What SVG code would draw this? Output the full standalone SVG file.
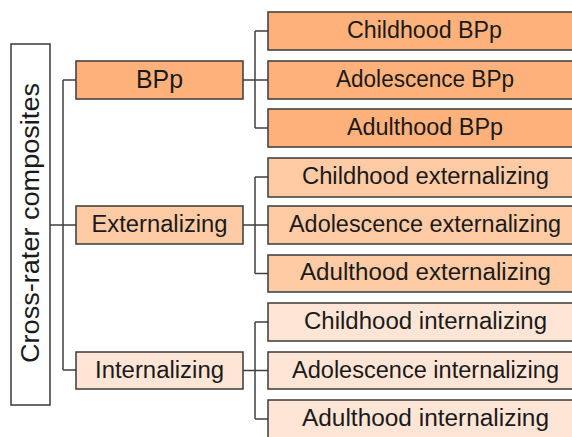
<svg xmlns="http://www.w3.org/2000/svg" width="572" height="437" viewBox="0 0 572 437">
<style>
.box{stroke:#3a3a3a;stroke-width:1.5}
.b1{fill:#FFB17B}
.b2{fill:#FFCBA5}
.b3{fill:#FFE5D5}
.wh{fill:#FFFFFF}
.t{font-family:"Liberation Sans",Arial,sans-serif;font-size:23px;fill:#1a1a1a;text-anchor:middle}
.ln{stroke:#404040;stroke-width:1.5;fill:none}
</style>
<rect width="572" height="437" fill="#FFFFFF"/>
<g id="connectors">
<path class="ln" d="M50,225 H76 M63,80 V370 M63,80 H76 M63,370 H76"/>
<path class="ln" d="M243,80 H268 M255,31 V128 M255,31 H268 M255,128 H268"/>
<path class="ln" d="M243,225 H268 M255,177 V273.5 M255,177 H268 M255,273.5 H268"/>
<path class="ln" d="M243,370.5 H268 M255,322 V419 M255,322 H268 M255,419 H268"/>
</g>
<g id="root">
<rect class="box wh" x="11" y="44" width="39" height="361"/>
<text class="t" transform="translate(39,223) rotate(-90)" style="font-size:26px" textLength="280" lengthAdjust="spacingAndGlyphs">Cross-rater composites</text>
</g>
<g id="bpp">
<rect class="box b1" x="76" y="61" width="167" height="38"/>
<text class="t" x="159.5" y="87.5" style="font-size:25px" textLength="47" lengthAdjust="spacingAndGlyphs">BPp</text>
</g>
<g id="externalizing">
<rect class="box b2" x="76" y="206" width="167" height="38"/>
<text class="t" x="159.5" y="232" textLength="136" lengthAdjust="spacingAndGlyphs">Externalizing</text>
</g>
<g id="internalizing">
<rect class="box b3" x="76" y="352" width="167" height="37"/>
<text class="t" x="159.5" y="377.5" textLength="129" lengthAdjust="spacingAndGlyphs">Internalizing</text>
</g>
<g id="childhood-bpp">
<rect class="box b1" x="268" y="12" width="320" height="38"/>
<text class="t" x="424.5" y="37.5" textLength="155" lengthAdjust="spacingAndGlyphs">Childhood BPp</text>
</g>
<g id="adolescence-bpp">
<rect class="box b1" x="268" y="61" width="320" height="38"/>
<text class="t" x="425" y="86.5" textLength="178" lengthAdjust="spacingAndGlyphs">Adolescence BPp</text>
</g>
<g id="adulthood-bpp">
<rect class="box b1" x="268" y="109" width="320" height="38"/>
<text class="t" x="425" y="134.5" textLength="156" lengthAdjust="spacingAndGlyphs">Adulthood BPp</text>
</g>
<g id="childhood-ext">
<rect class="box b2" x="268" y="158" width="320" height="39"/>
<text class="t" x="425.5" y="184" textLength="247" lengthAdjust="spacingAndGlyphs">Childhood externalizing</text>
</g>
<g id="adolescence-ext">
<rect class="box b2" x="268" y="206" width="320" height="38"/>
<text class="t" x="425" y="232" textLength="272" lengthAdjust="spacingAndGlyphs">Adolescence externalizing</text>
</g>
<g id="adulthood-ext">
<rect class="box b2" x="268" y="255" width="320" height="37"/>
<text class="t" x="425.5" y="280" textLength="251" lengthAdjust="spacingAndGlyphs">Adulthood externalizing</text>
</g>
<g id="childhood-int">
<rect class="box b3" x="268" y="303" width="320" height="38"/>
<text class="t" x="425.5" y="329" textLength="243" lengthAdjust="spacingAndGlyphs">Childhood internalizing</text>
</g>
<g id="adolescence-int">
<rect class="box b3" x="268" y="352" width="320" height="37"/>
<text class="t" x="425.5" y="377.5" textLength="267" lengthAdjust="spacingAndGlyphs">Adolescence internalizing</text>
</g>
<g id="adulthood-int">
<rect class="box b3" x="268" y="400" width="320" height="50"/>
<text class="t" x="425.5" y="426" textLength="247" lengthAdjust="spacingAndGlyphs">Adulthood internalizing</text>
</g>
</svg>
